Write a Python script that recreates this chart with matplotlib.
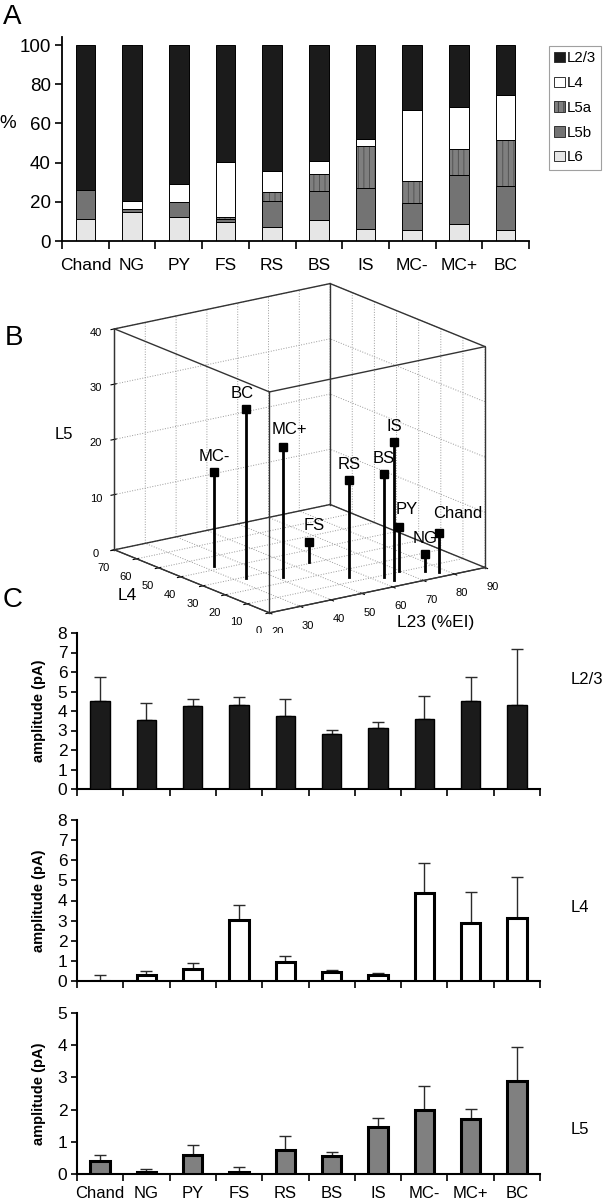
import matplotlib
matplotlib.use('Agg')
import matplotlib.pyplot as plt
import numpy as np
from matplotlib.patches import Patch

plt.rcParams['font.family'] = ['Liberation Sans', 'DejaVu Sans']
plt.rcParams['hatch.linewidth'] = 0.6

W, H = 604, 1199

cells = ['Chand', 'NG', 'PY', 'FS', 'RS', 'BS', 'IS', 'MC-', 'MC+', 'BC']

# panel A: laminar distribution of input (%)
pct_l6 = [11, 15, 12.5, 9.5, 7, 10.5, 6, 5.5, 8.5, 5.5]
pct_l5b = [15, 1.5, 7.5, 1.5, 13.5, 15, 21, 14, 25, 22.5]
pct_l5a = [0, 0, 0, 1.5, 4.5, 8.5, 21.5, 11, 13.5, 23.5]
pct_l4 = [0, 4, 9, 28, 10.5, 7, 3.5, 36.5, 21.5, 23]
pct_l23 = [74, 79.5, 71, 59.5, 64.5, 59, 48, 33, 31.5, 25.5]

# panel B: %EI per layer
ei_l23 = [78, 75.5, 69.5, 55.5, 56, 63.5, 64, 33, 42, 33.5]
ei_l4 = [4, 7, 10.5, 31.5, 14, 9, 5, 43, 24.5, 29.5]
ei_l5 = [7, 3, 8, 3.5, 17.5, 18.5, 25, 17, 23.5, 30.5]
lab_shift = [6, 0, 2.5, 1.5, 0, 0, 0, 0, 2, -1]

# panel C: mean amplitude and top of error bar (pA)
amp_l23 = [4.5, 3.55, 4.25, 4.3, 3.75, 2.8, 3.15, 3.6, 4.5, 4.3]
top_l23 = [5.75, 4.4, 4.6, 4.7, 4.6, 3.05, 3.45, 4.75, 5.75, 7.2]
amp_l4 = [0.0, 0.3, 0.6, 3.05, 0.95, 0.45, 0.3, 4.35, 2.9, 3.15]
top_l4 = [0.3, 0.5, 0.9, 3.8, 1.25, 0.55, 0.4, 5.85, 4.4, 5.15]
amp_l5 = [0.4, 0.07, 0.6, 0.07, 0.75, 0.55, 1.45, 2.0, 1.72, 2.9]
top_l5 = [0.6, 0.15, 0.9, 0.22, 1.18, 0.68, 1.75, 2.72, 2.03, 3.95]


def rect(x0, x1, ytop, ybot):
    return [x0 / W, 1 - ybot / H, (x1 - x0) / W, (ybot - ytop) / H]


fig = plt.figure(figsize=(W / 100, H / 100), dpi=100)
x = np.arange(len(cells))
bounds = np.arange(len(cells) + 1) - 0.5

# ---------------- A ----------------
axA = fig.add_axes(rect(62, 529, 36.7, 241))
layers = [('L6', pct_l6, '#e6e6e6', None),
          ('L5b', pct_l5b, '#737373', None),
          ('L5a', pct_l5a, '#7f7f7f', '|||'),
          ('L4', pct_l4, 'white', None),
          ('L2/3', pct_l23, '#1b1b1b', None)]
bottom = np.zeros(len(cells))
handles = {}
for name, vals, col, hat in layers:
    vals = np.array(vals, dtype=float)
    axA.bar(x, vals, 0.42, bottom=bottom, color=col, edgecolor='black', linewidth=0.7)
    if hat:
        axA.bar(x, vals, 0.42, bottom=bottom, color='none', edgecolor='#4d4d4d',
                hatch=hat, linewidth=0)
    handles[name] = Patch(facecolor=col, edgecolor='#333333', hatch=hat, linewidth=0.7)
    bottom += vals
axA.set_xlim(-0.5, 9.5)
axA.set_ylim(0, 104.3)
axA.set_yticks([0, 20, 40, 60, 80, 100])
axA.set_xticks(bounds)
axA.set_xticklabels([])
axA.set_xticks(x, minor=True)
axA.set_xticklabels(cells, minor=True, fontsize=12.5)
axA.tick_params(axis='x', which='major', length=6, width=1.2, direction='out')
axA.tick_params(axis='x', which='minor', length=0, pad=12)
axA.tick_params(axis='y', length=5, width=1.2, labelsize=13.5, pad=3)
for s in ['top', 'right']:
    axA.spines[s].set_visible(False)
for s in ['left', 'bottom']:
    axA.spines[s].set_linewidth(1.3)
order = ['L2/3', 'L4', 'L5a', 'L5b', 'L6']
leg = fig.legend([handles[k] for k in order], order, loc='upper left',
                 bbox_to_anchor=(549 / W, 1 - 46 / H), bbox_transform=fig.transFigure,
                 fontsize=10.8, handlelength=0.7, handleheight=0.7, handletextpad=0.15,
                 labelspacing=0.72, borderpad=0.35, borderaxespad=0, fancybox=False,
                 edgecolor='#a0a0a0', framealpha=1)
leg.get_frame().set_linewidth(0.8)
fig.text(8 / W, 1 - 124 / H, '%', fontsize=13.5, ha='center', va='center')
fig.text(3 / W, 1 - 4 / H, 'A', fontsize=20, ha='left', va='top')

# ---------------- B ----------------
plt.rcParams['grid.linestyle'] = ':'
plt.rcParams['grid.color'] = '#9a9a9a'
plt.rcParams['grid.linewidth'] = 0.7
side = 428
cx, cy = 294, 454
axB = fig.add_axes(rect(cx - side / 2, cx + side / 2, cy - side / 2, cy + side / 2),
                   projection='3d')
axB.set_proj_type('ortho')
axB.view_init(elev=17, azim=-125.7)
axB.set_box_aspect((1, 1, 0.87))
axB.patch.set_alpha(0)
for a in (axB.xaxis, axB.yaxis, axB.zaxis):
    a.set_pane_color((1, 1, 1, 0))
    a.pane.set_edgecolor('#333333')
    a.line.set_color('#333333')
axB.set_xlim(20, 90)
axB.set_ylim(0, 70)
axB.set_zlim(0, 40)
axB.set_xticks(range(20, 91, 10))
axB.set_yticks(range(0, 71, 10))
axB.set_zticks(range(0, 41, 10))
axB.tick_params(labelsize=8, pad=0)
xs, ys, zs = (20, 90), (0, 70), (0, 40)
for yy in ys:
    for zz in zs:
        axB.plot(xs, [yy, yy], [zz, zz], color='#333333', lw=1)
for xx in xs:
    for zz in zs:
        axB.plot([xx, xx], ys, [zz, zz], color='#333333', lw=1)
for xx in xs:
    for yy in ys:
        axB.plot([xx, xx], [yy, yy], zs, color='#333333', lw=1)
for i, name in enumerate(cells):
    axB.plot([ei_l23[i]] * 2, [ei_l4[i]] * 2, [0, ei_l5[i]], color='black', lw=2)
    axB.plot([ei_l23[i]], [ei_l4[i]], [ei_l5[i]], 's', color='black', ms=6)
    axB.text(ei_l23[i] + lab_shift[i], ei_l4[i], ei_l5[i] + 1.5, name, fontsize=12,
             ha='center', va='bottom')
fig.text(64 / W, 1 - 435 / H, 'L5', fontsize=12, ha='center', va='center')
fig.text(127 / W, 1 - 596 / H, 'L4', fontsize=12.5, ha='center', va='center')
fig.text(436 / W, 1 - 622 / H, 'L23 (%EI)', fontsize=12.5, ha='center', va='center')
fig.text(5 / W, 1 - 325 / H, 'B', fontsize=20, ha='left', va='top')

# ---------------- C ----------------
panels = [(amp_l23, top_l23, '#1b1b1b', 1.0, 633, 789, 8, 'L2/3', 680),
          (amp_l4, top_l4, 'white', 2.2, 820, 981, 8, 'L4', 908),
          (amp_l5, top_l5, '#808080', 2.2, 1013, 1174, 5, 'L5', 1130)]
for k, (amp, top, col, lw, yt, yb, ymax, lab, ly) in enumerate(panels):
    ax = fig.add_axes(rect(77, 540, yt, yb))
    amp = np.array(amp)
    err = np.array(top) - amp
    ax.bar(x, amp, 0.42, color=col, edgecolor='black', linewidth=lw, zorder=3)
    ax.errorbar(x, amp, yerr=[np.zeros(len(amp)), err], fmt='none', ecolor='#2b2b2b',
                elinewidth=1, capsize=4, capthick=1, zorder=2)
    ax.set_xlim(-0.5, 9.5)
    ax.set_ylim(0, ymax)
    ax.set_yticks(range(0, ymax + 1))
    ax.set_xticks(bounds)
    ax.set_xticklabels([])
    ax.tick_params(axis='x', which='major', length=5, width=1.2, direction='out')
    ax.tick_params(axis='y', length=4, width=1.2, labelsize=12.5, pad=3)
    if k == 2:
        ax.set_xticks(x, minor=True)
        ax.set_xticklabels(cells, minor=True, fontsize=12)
        ax.tick_params(axis='x', which='minor', length=0, pad=9)
    for s in ['top', 'right']:
        ax.spines[s].set_visible(False)
    for s in ['left', 'bottom']:
        ax.spines[s].set_linewidth(1.5)
    fig.text(39 / W, 1 - (yt + yb) / 2 / H, 'amplitude (pA)', fontsize=10.5,
             fontweight='bold', rotation=90, ha='center', va='center')
    fig.text(571 / W, 1 - ly / H, lab, fontsize=12, ha='left', va='center')
fig.text(3 / W, 1 - 587 / H, 'C', fontsize=20, ha='left', va='top')

fig.savefig('out.png', dpi=100)
